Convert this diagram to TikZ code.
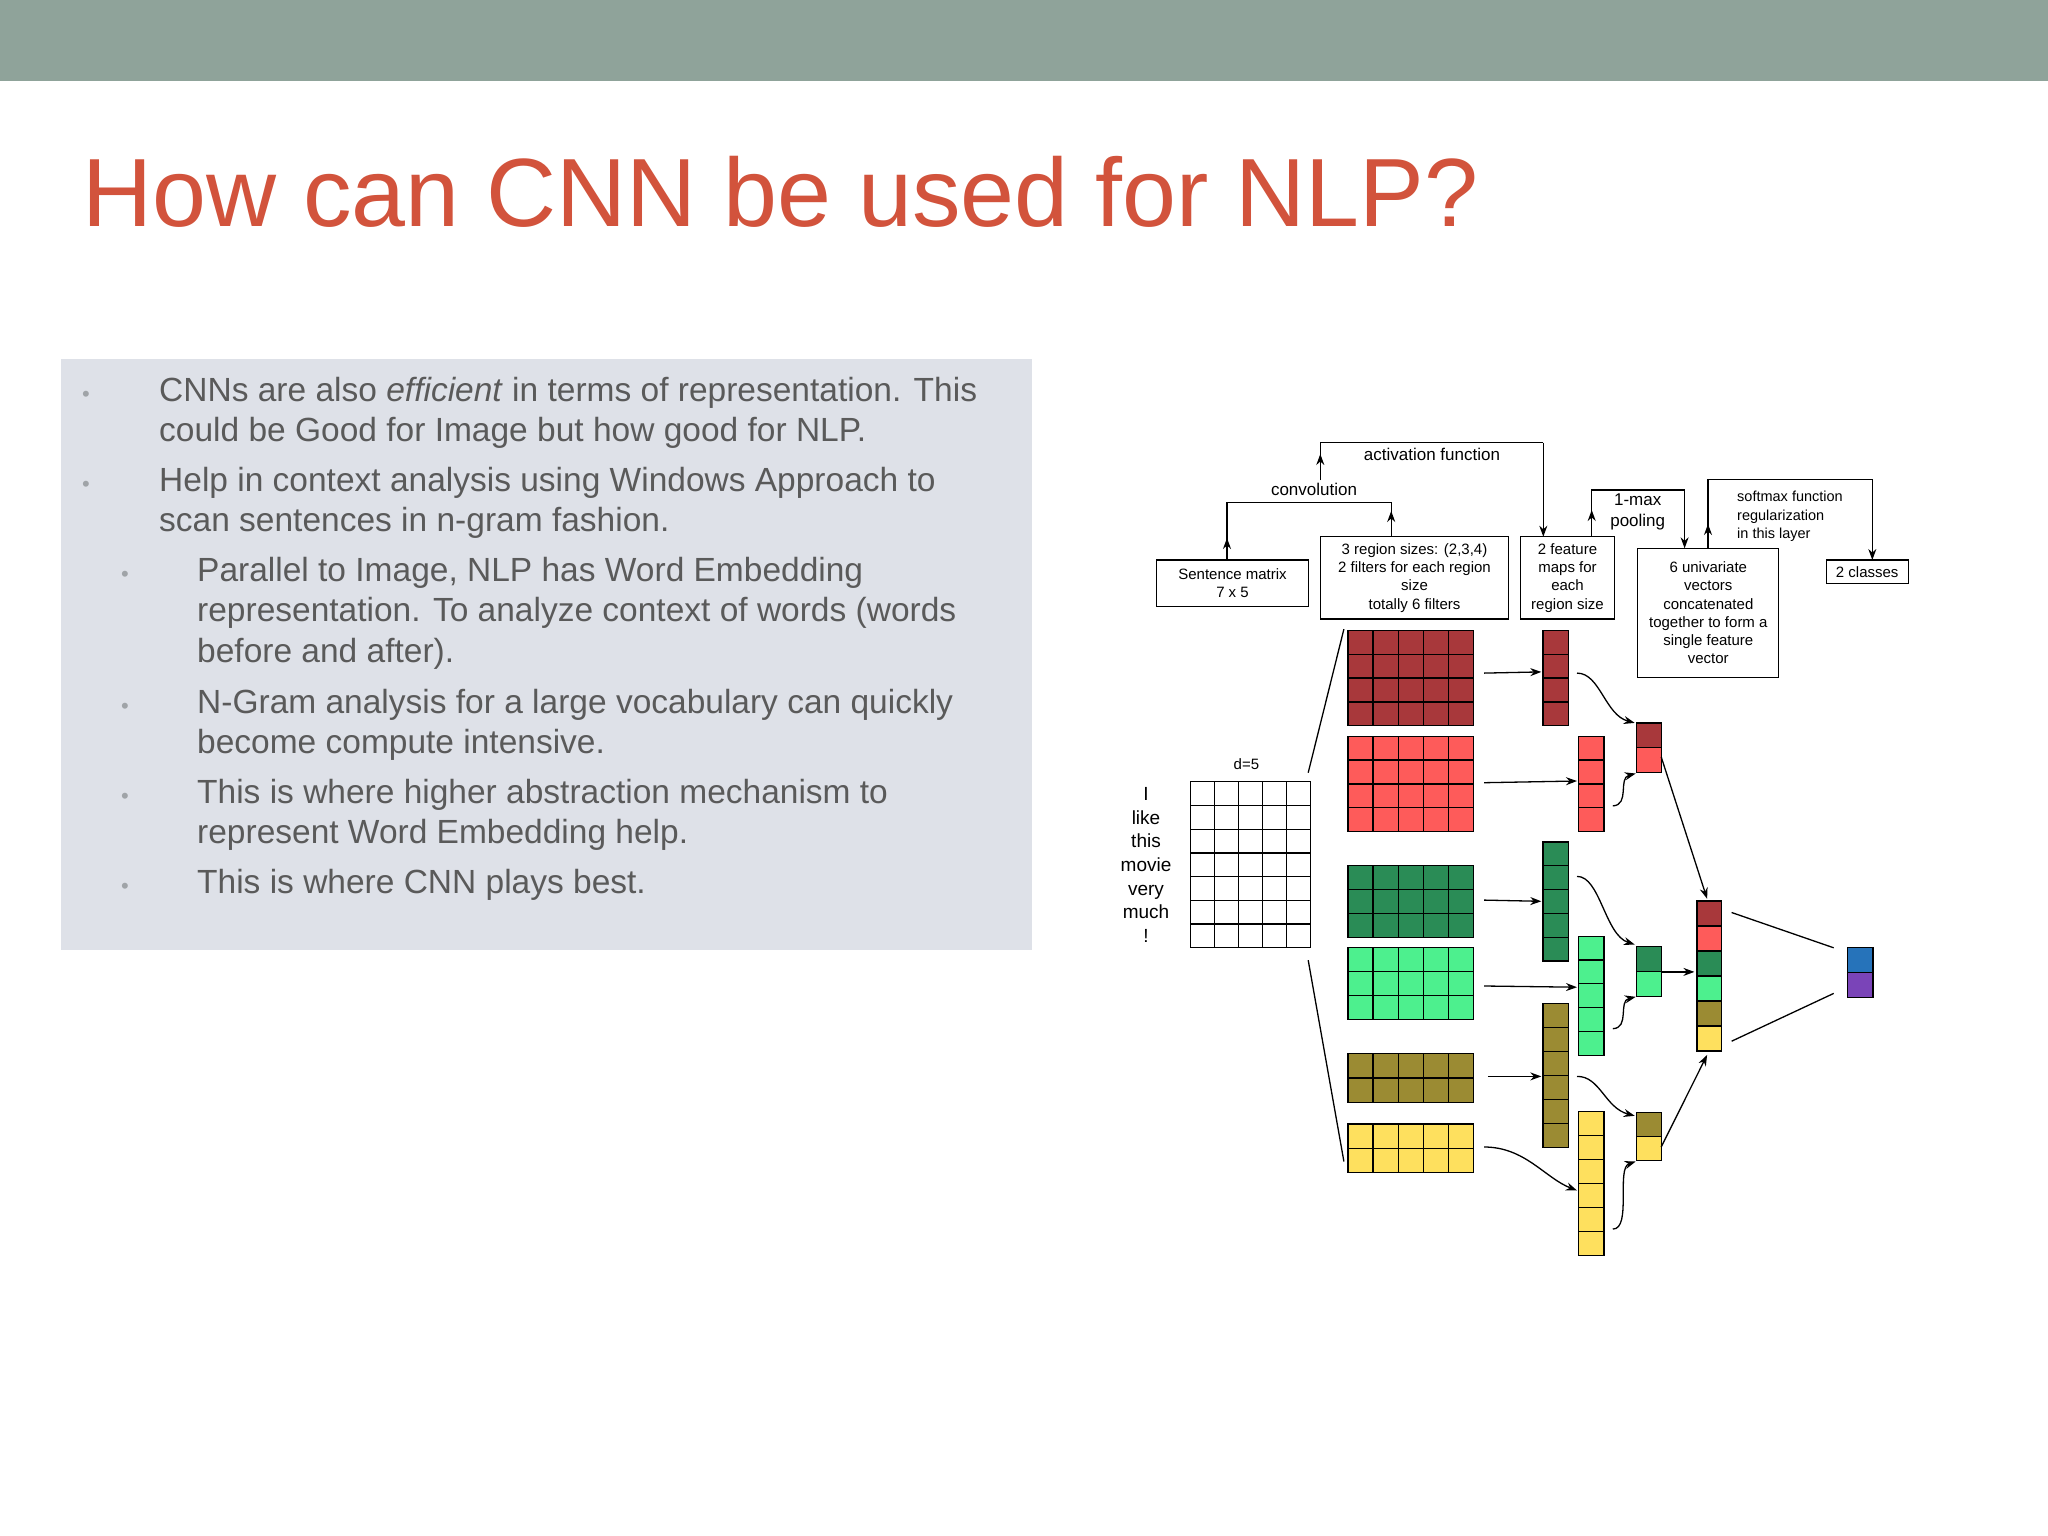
\documentclass[tikz,border=0pt]{standalone}
\usepackage{fontspec}
\setmainfont{Liberation Sans}
\usetikzlibrary{arrows.meta}
\definecolor{band}{HTML}{8FA39A}
\definecolor{panel}{HTML}{DEE1E8}
\definecolor{titlec}{HTML}{D2533C}
\definecolor{bodyc}{HTML}{5A5A5A}
\definecolor{bulc}{HTML}{A0A4A8}
\definecolor{cdr}{HTML}{A8383B}
\definecolor{clr}{HTML}{FE5B5A}
\definecolor{cdg}{HTML}{2A8C56}
\definecolor{clg}{HTML}{4DF08E}
\definecolor{col}{HTML}{9B8B33}
\definecolor{cyl}{HTML}{FEE05E}
\definecolor{cbl}{HTML}{2673BA}
\definecolor{cpu}{HTML}{7A44B8}
\newcommand\mygrid[7]{\foreach \i in {1,...,#3}{\foreach \j in {1,...,#4}{\filldraw[fill=#7,draw=black,line width=1.3pt] ({#1+(\i-1)*#5},{#2+(\j-1)*#6}) rectangle ++(#5,#6);}}}
\tikzset{
  bl/.style={anchor=base west,inner sep=0pt,font=\fontsize{33.5}{33.5}\selectfont,text=bodyc},
  bu/.style={anchor=base,inner sep=0pt,font=\fontsize{22}{22}\selectfont,text=bulc},
  lbox/.style={draw=black,line width=1.3pt,align=center,font=\fontsize{15}{18.3}\selectfont,inner sep=0pt},
  lab/.style={font=\fontsize{17}{22}\selectfont,align=center,inner sep=0pt},
  ln/.style={line width=1.3pt},
  ar/.style={line width=1.3pt,-{Stealth[length=11pt,width=8pt]}}
}
\begin{document}
\begin{tikzpicture}[x=1pt,y=-1pt]
\useasboundingbox (0,0) rectangle (2048,1536);
\fill[white] (0,0) rectangle (2048,1536);
\fill[band] (0,0) rectangle (2048,81);
\node[anchor=base west,inner sep=0pt,text=titlec,font=\fontsize{97}{97}\selectfont] (title) at (82,226) {How can CNN be used for NLP?};
\fill[panel] (61,359) rectangle (1032,950);
% bullets
\foreach \y in {401,491}{\node[bu] at (86,\y) {•};}
\foreach \y in {581,713,803,893}{\node[bu] at (125,\y) {•};}
\node[bl] (t1) at (159,401) {CNNs are also \textit{efficient} in terms of representation. This};
\node[bl] (t2) at (159,441.5) {could be Good for Image but how good for NLP.};
\node[bl] (t3) at (159,491) {Help in context analysis using Windows Approach to};
\node[bl] (t4) at (159,531.5) {scan sentences in n-gram fashion.};
\node[bl] (t5) at (197,581) {Parallel to Image, NLP has Word Embedding};
\node[bl] (t6) at (197,621.7) {representation. To analyze context of words (words};
\node[bl] (t7) at (197,662) {before and after).};
\node[bl] (t8) at (197,713) {N-Gram analysis for a large vocabulary can quickly};
\node[bl] (t9) at (197,753.6) {become compute intensive.};
\node[bl] (t10) at (197,803) {This is where higher abstraction mechanism to};
\node[bl] (t11) at (197,843.7) {represent Word Embedding help.};
\node[bl] (t12) at (197,893.3) {This is where CNN plays best.};
% label boxes
\node[lbox,minimum width=152pt,minimum height=46.7pt] (sm) at (1232.5,583.3) {Sentence matrix\\7 x 5};
\node[lbox,minimum width=188pt,minimum height=82.3pt] (rs) at (1414.5,577.8) {3 region sizes: (2,3,4)\\2 filters for each region\\size\\totally 6 filters};
\node[lbox,minimum width=94pt,minimum height=82.3pt] (fm) at (1567.5,577.8) {2 feature\\maps for\\each\\region size};
\node[lbox,minimum width=141pt,minimum height=129pt] (uv) at (1708.3,612.8) {6 univariate\\vectors\\concatenated\\together to form a\\single feature\\vector};
\node[lbox,minimum width=82pt,minimum height=23.3pt] (cl) at (1867.2,571.7) {2 classes};
% top connectors
\draw[ln] (1227,560) -- (1227,502.7) -- (1391.2,502.7) -- (1391.2,536.7);
\draw[ar] (1227,560) -- (1227,538);
\draw[ar] (1391.2,536.7) -- (1391.2,511);
\node[lab] (conv) at (1314,489) {convolution};
\draw[ln] (1320.3,480) -- (1320.3,442.7) -- (1543.3,442.7);
\draw[ar] (1320.3,480) -- (1320.3,454);
\draw[ar] (1543.3,442.7) -- (1543.3,536.7);
\node[lab] (act) at (1432,454) {activation function};
\draw[ln] (1591.7,536.7) -- (1591.7,490) -- (1684.6,490);
\draw[ar] (1591.7,536.7) -- (1591.7,510);
\draw[ar] (1684.6,490) -- (1684.6,548.3);
\node[lab,font=\fontsize{17}{21}\selectfont] (pool) at (1637.7,512) {1-max\\pooling};
\draw[ln] (1708,548.3) -- (1708,479.3) -- (1872.3,479.3);
\draw[ar] (1708,548.3) -- (1708,524);
\draw[ar] (1872.3,479.3) -- (1872.3,560);
\node[lab,align=left,font=\fontsize{14.5}{18.3}\selectfont] (sf) at (1790,516.5) {softmax function\\regularization\\in this layer};
% sentence matrix
\node[font=\fontsize{15}{15}\selectfont] (d5) at (1246.4,764) {d=5};
\mygrid{1190.8}{781.8}{5}{7}{23.9}{23.7}{white}
\node[lab,font=\fontsize{19}{23.7}\selectfont] (words) at (1146,865) {I\\like\\this\\movie\\very\\much\\!};
% filters
\mygrid{1348}{630.4}{5}{4}{25.1}{23.85}{cdr}
\mygrid{1348}{736.2}{5}{4}{25.1}{23.85}{clr}
\mygrid{1348}{865.6}{5}{3}{25.1}{23.9}{cdg}
\mygrid{1348}{947.8}{5}{3}{25.1}{23.9}{clg}
\mygrid{1348}{1053.6}{5}{2}{25.1}{24.3}{col}
\mygrid{1348}{1124.1}{5}{2}{25.1}{24.3}{cyl}
% feature maps
\mygrid{1542.9}{630.4}{1}{4}{25.5}{23.85}{cdr}
\mygrid{1578.6}{736.2}{1}{4}{25.5}{23.85}{clr}
\mygrid{1542.9}{842}{1}{5}{25.5}{23.8}{cdg}
\mygrid{1578.6}{936.2}{1}{5}{25.5}{23.8}{clg}
\mygrid{1542.9}{1003.8}{1}{6}{25.5}{24}{col}
\mygrid{1578.6}{1111.7}{1}{6}{25.5}{24}{cyl}
% pooled
\mygrid{1636.7}{722.9}{1}{1}{24.5}{24.9}{cdr}
\mygrid{1636.7}{747.8}{1}{1}{24.5}{24.9}{clr}
\mygrid{1636.7}{946.6}{1}{1}{24.5}{24.9}{cdg}
\mygrid{1636.7}{971.5}{1}{1}{24.5}{24.9}{clg}
\mygrid{1636.7}{1112.5}{1}{1}{24.5}{24.1}{col}
\mygrid{1636.7}{1136.6}{1}{1}{24.5}{24.1}{cyl}
% concatenated
\foreach \c [count=\k] in {cdr,clr,cdg,clg,col,cyl}{\mygrid{1696.9}{900.9+(\k-1)*25}{1}{1}{24.5}{25}{\c}}
% output
\mygrid{1847.4}{947.8}{1}{1}{25.6}{24.9}{cbl}
\mygrid{1847.4}{972.7}{1}{1}{25.6}{24.9}{cpu}
% connectors
\draw[ln] (1308.2,772.7) -- (1343.9,629.1);
\draw[ln] (1308.2,960.2) -- (1343.9,1161.5);
\draw[ar] (1484.2,673.1) -- (1541.3,671.9);
\draw[ar] (1484.2,782.7) -- (1577,781);
\draw[ar] (1484.2,900.1) -- (1541.3,901.3);
\draw[ar] (1484.2,986) -- (1577,987.2);
\draw[ar] (1487.8,1076.4) -- (1541.3,1076.4);
\draw[ar] (1484.2,1147) .. controls (1525,1147) and (1545,1178) .. (1577,1190.5);
\draw[ar] (1577,673.1) .. controls (1600,673) and (1605,715) .. (1634.7,722.9);
\draw[ar] (1612.8,805.9) .. controls (1630,805) and (1618,778) .. (1635.7,773.5);
\draw[ar] (1577,876.4) .. controls (1600,876) and (1605,935) .. (1634.7,944.5);
\draw[ar] (1612.8,1028.7) .. controls (1630,1028) and (1618,1001) .. (1635.7,996.8);
\draw[ar] (1577,1076.4) .. controls (1600,1076) and (1605,1108) .. (1634.7,1115.8);
\draw[ar] (1612.8,1229.1) .. controls (1632,1229) and (1616,1168) .. (1635.7,1161.5);
\draw[ar] (1661.2,756.9) -- (1707.1,898.8);
\draw[ar] (1661.2,971.9) -- (1694.4,971.9);
\draw[ar] (1661.2,1147) -- (1707.1,1054.9);
\draw[ln] (1731.6,912.5) -- (1833.7,947.8);
\draw[ln] (1731.6,1041.2) -- (1833.7,993.4);
\end{tikzpicture}
\end{document}
